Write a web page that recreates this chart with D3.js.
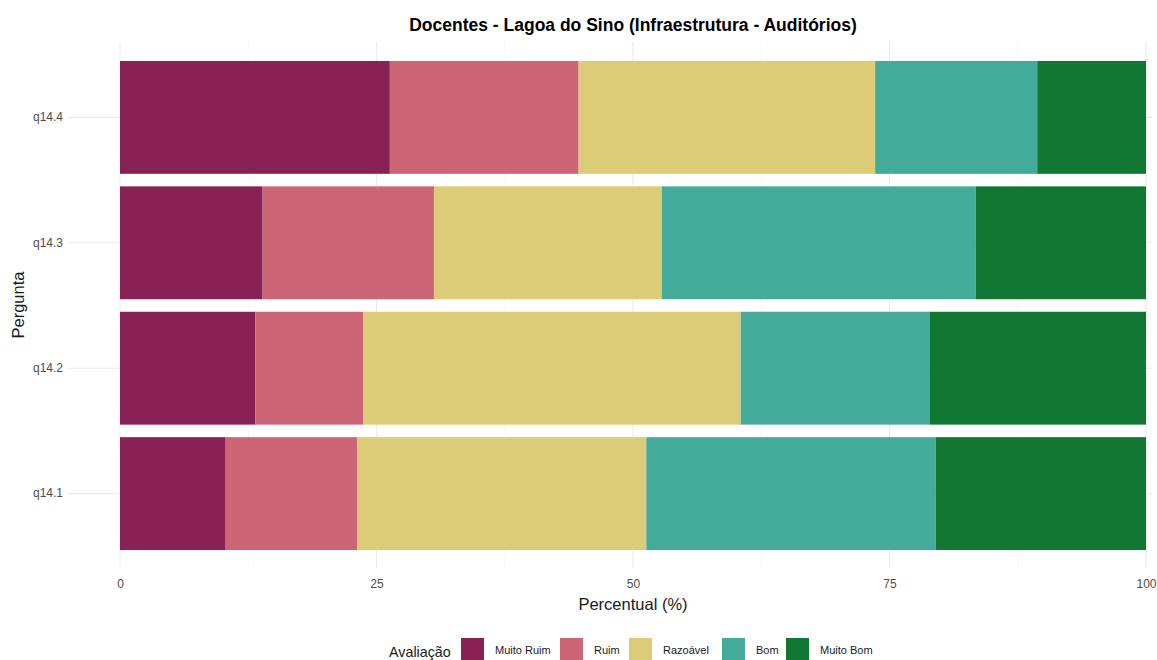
<!DOCTYPE html>
<html>
<head>
<meta charset="utf-8">
<script src="https://cdn.jsdelivr.net/npm/d3@7"></script>
<style>
  body { margin: 0; background: #fff; }
  svg { font-family: "Liberation Sans", Arial, sans-serif; }
</style>
</head>
<body>
<svg id="chart" width="1157" height="660"></svg>
<script>
// ---- Data ----
const questions = ["q14.4", "q14.3", "q14.2", "q14.1"];
const categories = ["Muito Ruim", "Ruim", "Razoável", "Bom", "Muito Bom"];
const colors = ["#882255", "#CC6677", "#DDCC77", "#44AA99", "#117733"];
const muitoRuim = [26.3, 13.9, 13.2, 10.3];
const ruim      = [18.4, 16.7, 10.5, 12.8];
const razoavel  = [28.9, 22.2, 36.8, 28.2];
const bom       = [15.8, 30.6, 18.4, 28.2];
const muitoBom  = [10.6, 16.6, 21.1, 20.5];
const xTicks = [0, 25, 50, 75, 100];
const xMinor = [12.5, 37.5, 62.5, 87.5];

const seriesValues = [muitoRuim, ruim, razoavel, bom, muitoBom];
const table = questions.map((q, i) => {
  const row = { pergunta: q };
  categories.forEach((c, j) => row[c] = seriesValues[j][i]);
  return row;
});

const svg = d3.select("#chart");
const panel = { left: 68, right: 1152, top: 42, bottom: 568 };

const x = d3.scaleLinear().domain([0, 100]).range([120, 1146]);
const y = d3.scaleBand().domain(questions).range([54.7, 556.3])
  .paddingInner(0.1).paddingOuter(0.05);
const color = d3.scaleOrdinal().domain(categories).range(colors);

// Gridlines
const g = svg.append("g");
g.selectAll("line.minor").data(xMinor).join("line")
  .attr("x1", d => x(d)).attr("x2", d => x(d))
  .attr("y1", panel.top).attr("y2", panel.bottom)
  .attr("stroke", "#f2f2f2").attr("stroke-width", 0.6);
g.selectAll("line.major").data(xTicks).join("line")
  .attr("x1", d => x(d)).attr("x2", d => x(d))
  .attr("y1", panel.top).attr("y2", panel.bottom)
  .attr("stroke", "#ebebeb").attr("stroke-width", 1.1);
g.selectAll("line.ymajor").data(questions).join("line")
  .attr("x1", panel.left).attr("x2", panel.right)
  .attr("y1", d => y(d) + y.bandwidth() / 2).attr("y2", d => y(d) + y.bandwidth() / 2)
  .attr("stroke", "#ebebeb").attr("stroke-width", 1.1);

// Stacked bars
const stack = d3.stack().keys(categories)(table);
svg.append("g").selectAll("g").data(stack).join("g")
  .attr("fill", d => color(d.key))
  .selectAll("rect").data(d => d).join("rect")
  .attr("x", d => x(d[0]))
  .attr("width", d => x(d[1]) - x(d[0]))
  .attr("y", d => y(d.data.pergunta))
  .attr("height", y.bandwidth());

// Axes
const xAxis = svg.append("g").attr("transform", `translate(0,${panel.bottom})`)
  .call(d3.axisBottom(x).tickValues(xTicks).tickSize(0).tickPadding(11));
xAxis.select(".domain").remove();
xAxis.selectAll("text").attr("fill", "#4d4d4d").attr("font-size", 12);

const yAxis = svg.append("g").attr("transform", `translate(${panel.left - 5},0)`)
  .call(d3.axisLeft(y).tickSize(0).tickPadding(0));
yAxis.select(".domain").remove();
yAxis.selectAll("text").attr("fill", "#4d4d4d").attr("font-size", 12);

// Titles
svg.append("text").attr("x", 633).attr("y", 31).attr("text-anchor", "middle")
  .attr("font-size", 17.5).attr("font-weight", "bold").attr("fill", "#000")
  .text("Docentes - Lagoa do Sino (Infraestrutura - Auditórios)");
svg.append("text").attr("x", 633).attr("y", 610).attr("text-anchor", "middle")
  .attr("font-size", 16.5).attr("fill", "#1a1a1a").text("Percentual (%)");
svg.append("text").attr("transform", "translate(24,305) rotate(-90)")
  .attr("text-anchor", "middle").attr("font-size", 16.5).attr("fill", "#1a1a1a").text("Pergunta");

// Legend
const legend = svg.append("g");
legend.append("text").attr("x", 389).attr("y", 657).attr("font-size", 14.3)
  .attr("fill", "#1a1a1a").text("Avaliação");
const keyX = [461, 560, 629, 722, 786];
const legItems = legend.selectAll("g.item").data(categories).join("g")
  .attr("transform", (d, i) => `translate(${keyX[i]},638)`);
legItems.append("rect").attr("width", 23).attr("height", 23)
  .attr("fill", d => color(d));
legItems.append("text").attr("x", 34).attr("y", 16).attr("font-size", 11)
  .attr("fill", "#1a1a1a").text(d => d);
</script>
</body>
</html>
